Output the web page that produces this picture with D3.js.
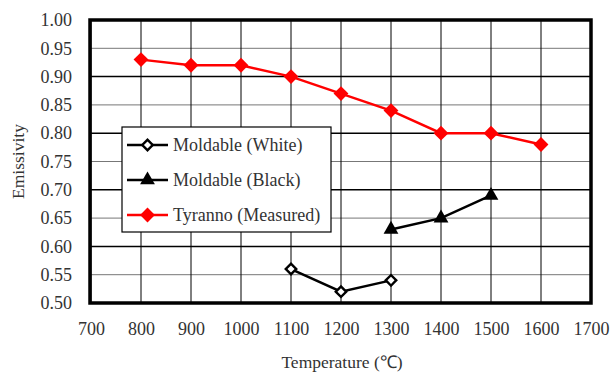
<!DOCTYPE html>
<html>
<head>
<script src="https://d3js.org/d3.v7.min.js"></script>
<style>
  body { margin: 0; background: #fff; }
  text { font-family: "Liberation Serif", "Times New Roman", serif; }
</style>
</head>
<body>
<svg width="611" height="374"></svg>
<script>
var temps = [800, 900, 1000, 1100, 1200, 1300, 1400, 1500, 1600];
var tyranno = [0.93, 0.92, 0.92, 0.90, 0.87, 0.84, 0.80, 0.80, 0.78];
var blackTemps = [1300, 1400, 1500];
var blackVals = [0.63, 0.65, 0.69];
var whiteTemps = [1100, 1200, 1300];
var whiteVals = [0.56, 0.52, 0.54];
var xTicks = [700, 800, 900, 1000, 1100, 1200, 1300, 1400, 1500, 1600, 1700];
var yTicks = [0.50, 0.55, 0.60, 0.65, 0.70, 0.75, 0.80, 0.85, 0.90, 0.95, 1.00];
var legendNames = ["Moldable (White)", "Moldable (Black)", "Tyranno (Measured)"];

var svg = d3.select("svg");
var pLeft = 91, pRight = 591, pTop = 20, pBottom = 303;

var x = d3.scaleLinear().domain([700, 1700]).range([pLeft, pRight]);
var y = d3.scaleLinear().domain([0.5, 1.0]).range([pBottom, pTop]);

var g = svg.append("g");

// grid
g.selectAll(".hgrid").data(yTicks).enter().append("line")
  .attr("x1", pLeft).attr("x2", pRight)
  .attr("y1", function(d) { return y(d); }).attr("y2", function(d) { return y(d); })
  .attr("stroke", function(d, i) { return i % 2 == 0 ? "#000" : "#777"; })
  .attr("stroke-width", function(d, i) { return i % 2 == 0 ? 1.5 : 1; });

g.selectAll(".vgrid").data(xTicks).enter().append("line")
  .attr("y1", pTop).attr("y2", pBottom)
  .attr("x1", function(d) { return x(d); }).attr("x2", function(d) { return x(d); })
  .attr("stroke", "#000").attr("stroke-width", 1);

// axes labels
var xaxis = d3.axisBottom(x).tickValues(xTicks).tickSize(0).tickPadding(19).tickFormat(d3.format("d"));
var yaxis = d3.axisLeft(y).tickValues(yTicks).tickSize(0).tickPadding(19).tickFormat(d3.format(".2f"));

function styleAxis(a) {
  a.select(".domain").remove();
  a.selectAll("text").style("font-size", "18px").style("fill", "#333")
    .style("font-family", "Liberation Serif, serif");
}
svg.append("g").attr("transform", "translate(0," + pBottom + ")").call(xaxis).call(styleAxis);
svg.append("g").attr("transform", "translate(" + pLeft + ",0)").call(yaxis).call(styleAxis);

// frame
svg.append("rect").attr("x", pLeft - 1).attr("y", pTop).attr("width", pRight - pLeft + 1).attr("height", pBottom - pTop)
  .attr("fill", "none").attr("stroke", "#000").attr("stroke-width", 3.5);

svg.append("text").attr("x", 342).attr("y", 368).attr("text-anchor", "middle")
  .style("font-size", "17.5px").style("fill", "#333").text("Temperature (\u2103)");
svg.append("text").attr("transform", "translate(24," + ((pTop + pBottom) / 2) + ") rotate(-90)")
  .attr("text-anchor", "middle").style("font-size", "17.5px").style("fill", "#333").text("Emissivity");

var line = d3.line().x(function(d) { return x(d[0]); }).y(function(d) { return y(d[1]); });

function series(ts, vs, color, shape, size, fill, sw, rot) {
  var pts = ts.map(function(t, i) { return [t, vs[i]]; });
  g.append("path").attr("d", line(pts)).attr("fill", "none").attr("stroke", color).attr("stroke-width", 2.5);
  g.selectAll(null).data(pts).enter().append("path")
    .attr("transform", function(d) { return "translate(" + x(d[0]) + "," + y(d[1]) + ")" + (rot ? " rotate(45)" : ""); })
    .attr("d", d3.symbol().type(shape).size(size)())
    .attr("fill", fill).attr("stroke", color).attr("stroke-width", sw);
}

series(whiteTemps, whiteVals, "#000", d3.symbolSquare, 55, "#fff", 2.4, true);
series(blackTemps, blackVals, "#000", d3.symbolTriangle, 95, "#000", 0, false);
series(temps, tyranno, "#f00", d3.symbolSquare, 110, "#f00", 0, true);

// legend
var leg = svg.append("g");
leg.append("rect").attr("x", 122).attr("y", 127).attr("width", 209).attr("height", 105)
  .attr("fill", "#fff").attr("stroke", "#000").attr("stroke-width", 1.2);
var legColors = ["#000", "#000", "#f00"];
var legShapes = [d3.symbolSquare, d3.symbolTriangle, d3.symbolSquare];
var legSizes = [55, 95, 110];
var legFill = ["#fff", "#000", "#f00"];
var legSw = [2.4, 0, 0];
legendNames.forEach(function(n, i) {
  var yy = 145 + i * 35;
  leg.append("line").attr("x1", 127).attr("x2", 168).attr("y1", yy).attr("y2", yy)
    .attr("stroke", legColors[i]).attr("stroke-width", 2.5);
  leg.append("path")
    .attr("transform", "translate(147.5," + yy + ")" + (legShapes[i] === d3.symbolSquare ? " rotate(45)" : ""))
    .attr("d", d3.symbol().type(legShapes[i]).size(legSizes[i])())
    .attr("fill", legFill[i]).attr("stroke", legColors[i]).attr("stroke-width", legSw[i]);
  leg.append("text").attr("x", 173).attr("y", yy + 6).style("font-size", "18px").style("fill", "#333").text(n);
});
</script>
</body>
</html>
